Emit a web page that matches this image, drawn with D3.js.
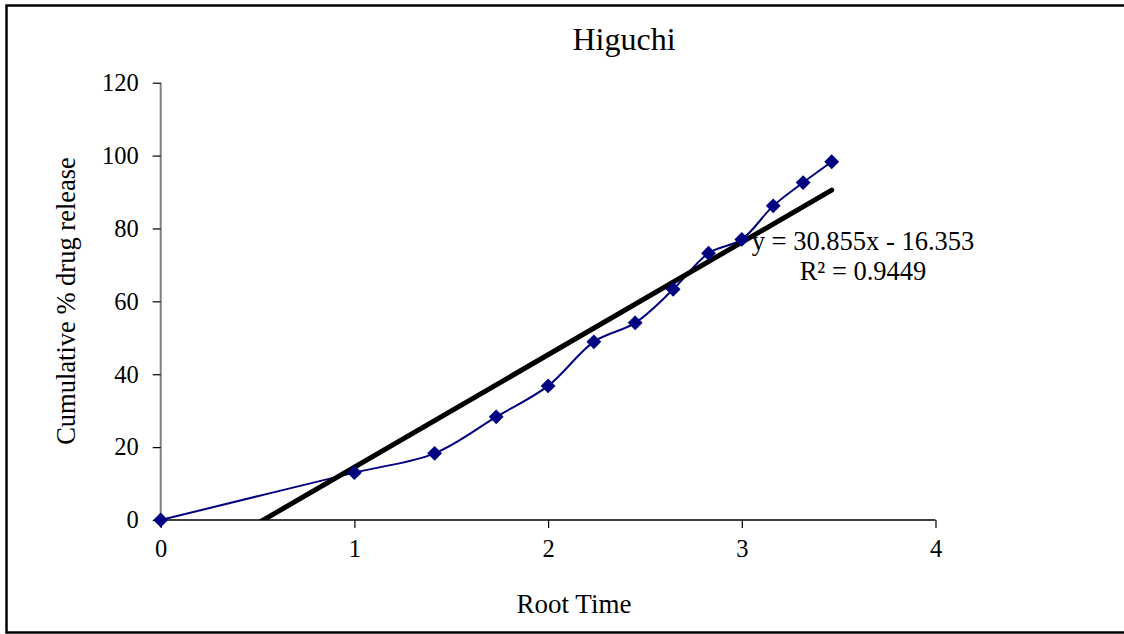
<!DOCTYPE html>
<html>
<head>
<meta charset="utf-8">
<script src="https://cdn.jsdelivr.net/npm/d3@7"></script>
<style>
  html, body { margin: 0; padding: 0; background: #fff; }
  svg { display: block; font-family: "Liberation Serif", "Times New Roman", serif; }
</style>
</head>
<body>
<svg id="chart" width="1124" height="634"></svg>
<script>
// Root of time (√t, t = 0..12) against cumulative % drug release
const rootTime = [0, 1, 1.4142, 1.7321, 2, 2.2361, 2.4495, 2.6458, 2.8284, 3, 3.1623, 3.3166, 3.4641];
const release = [0, 13.0, 18.3, 28.3, 36.8, 48.9, 54.1, 63.3, 73.2, 77.0, 86.2, 92.6, 98.3];

// Linear trendline as reported on the chart
const slope = 30.855;
const intercept = -16.353;
const rSquared = 0.9449;

const xTicks = [0, 1, 2, 3, 4];
const yTicks = [0, 20, 40, 60, 80, 100, 120];

const svg = d3.select("#chart");

// Chart frame
svg.append("rect")
  .attr("x", 6.5).attr("y", 5.5)
  .attr("width", 1125).attr("height", 627)
  .attr("fill", "none").attr("stroke", "#000").attr("stroke-width", 2.5);

const x = d3.scaleLinear().domain([0, 4]).range([160.7, 935.5]);
const y = d3.scaleLinear().domain([0, 120]).range([520, 82.7]);

// Clip region for the plot area
svg.append("defs").append("clipPath").attr("id", "plot")
  .append("rect")
  .attr("x", x(0)).attr("y", y(120))
  .attr("width", x(4) - x(0)).attr("height", y(0) - y(120));

// Title
svg.append("text")
  .attr("x", 624).attr("y", 50)
  .attr("text-anchor", "middle")
  .attr("font-size", 32)
  .text("Higuchi");

// Y axis
const yAxis = svg.append("g")
  .attr("transform", `translate(${x(0)},0)`)
  .call(d3.axisLeft(y).tickValues(yTicks).tickSize(8).tickPadding(14).tickFormat(d3.format("d")));
yAxis.select(".domain").attr("stroke", "#808080").attr("stroke-width", 2).attr("d", `M0,${y(120)}V${y(0)}`);
yAxis.selectAll(".tick line").attr("stroke", "#000").attr("stroke-width", 1.2);
yAxis.selectAll(".tick text")
  .attr("font-family", "Liberation Serif, Times New Roman, serif")
  .attr("font-size", 24.5).attr("fill", "#000");

// X axis
const xAxis = svg.append("g")
  .attr("transform", `translate(0,${y(0)})`)
  .call(d3.axisBottom(x).tickValues(xTicks).tickSize(8).tickPadding(12).tickFormat(d3.format("d")));
xAxis.select(".domain").attr("stroke", "#000").attr("stroke-width", 1.5).attr("d", `M${x(0)},0H${x(4)}`);
xAxis.selectAll(".tick line").attr("stroke", "#000").attr("stroke-width", 1.2);
xAxis.selectAll(".tick text")
  .attr("font-family", "Liberation Serif, Times New Roman, serif")
  .attr("font-size", 24.5).attr("fill", "#000");

// Axis titles
svg.append("text")
  .attr("x", 574).attr("y", 613)
  .attr("text-anchor", "middle")
  .attr("font-size", 27)
  .text("Root Time");

svg.append("text")
  .attr("transform", `translate(75,301) rotate(-90)`)
  .attr("text-anchor", "middle")
  .attr("font-size", 26.5)
  .text("Cumulative % drug release");

const pts = rootTime.map((v, i) => [v, release[i]]);

// Smoothed data series
svg.append("path")
  .datum(pts)
  .attr("fill", "none")
  .attr("stroke", "#000080")
  .attr("stroke-width", 2)
  .attr("d", d3.line().x(d => x(d[0])).y(d => y(d[1])).curve(d3.curveCatmullRom.alpha(0.5)));

// Trendline over the data range, clipped to the plot area
const xMin = d3.min(rootTime), xMax = d3.max(rootTime);
svg.append("line")
  .attr("clip-path", "url(#plot)")
  .attr("x1", x(xMin)).attr("y1", y(slope * xMin + intercept))
  .attr("x2", x(xMax)).attr("y2", y(slope * xMax + intercept))
  .attr("stroke", "#000")
  .attr("stroke-width", 5)
  .attr("stroke-linecap", "round");

// Diamond markers
svg.append("g").selectAll("path")
  .data(pts)
  .join("path")
  .attr("transform", d => `translate(${x(d[0])},${y(d[1])}) rotate(45)`)
  .attr("d", d3.symbol(d3.symbolSquare, 110))
  .attr("fill", "#000080");

// Trendline equation
const eq = svg.append("text")
  .attr("text-anchor", "middle")
  .attr("font-size", 26.5);
eq.append("tspan").attr("x", 863).attr("y", 250)
  .text(`y = ${slope}x - ${Math.abs(intercept)}`);
eq.append("tspan").attr("x", 863).attr("y", 280)
  .text(`R² = ${rSquared}`);
</script>
</body>
</html>
